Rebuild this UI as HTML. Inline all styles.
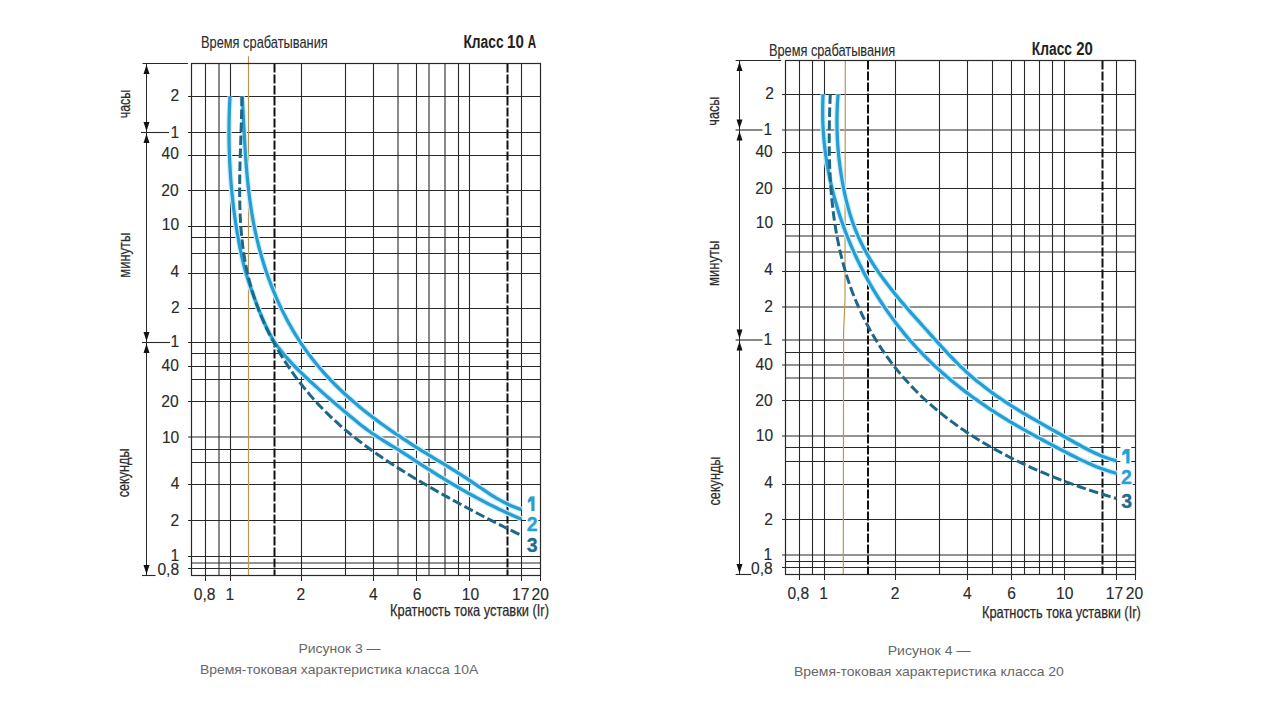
<!DOCTYPE html>
<html><head><meta charset="utf-8"><style>
html,body{margin:0;padding:0;background:#fff;width:1280px;height:720px;overflow:hidden}
svg{display:block;font-family:"Liberation Sans",sans-serif}
</style></head><body>
<svg width="1280" height="720" viewBox="0 0 1280 720">
<rect width="1280" height="720" fill="#fff"/>
<line x1="191.5" y1="96.5" x2="540.5" y2="96.5" stroke="#282828" stroke-width="1.1"/>
<line x1="191.5" y1="132.5" x2="540.5" y2="132.5" stroke="#282828" stroke-width="1.1"/>
<line x1="191.5" y1="155.5" x2="540.5" y2="155.5" stroke="#282828" stroke-width="1.1"/>
<line x1="191.5" y1="190.5" x2="540.5" y2="190.5" stroke="#282828" stroke-width="1.1"/>
<line x1="191.5" y1="226.5" x2="540.5" y2="226.5" stroke="#282828" stroke-width="1.1"/>
<line x1="191.5" y1="237.5" x2="540.5" y2="237.5" stroke="#282828" stroke-width="1.1"/>
<line x1="191.5" y1="253.5" x2="540.5" y2="253.5" stroke="#282828" stroke-width="1.1"/>
<line x1="191.5" y1="273.5" x2="540.5" y2="273.5" stroke="#282828" stroke-width="1.1"/>
<line x1="191.5" y1="308.5" x2="540.5" y2="308.5" stroke="#282828" stroke-width="1.1"/>
<line x1="191.5" y1="342.5" x2="540.5" y2="342.5" stroke="#282828" stroke-width="1.1"/>
<line x1="191.5" y1="353.5" x2="540.5" y2="353.5" stroke="#282828" stroke-width="1.1"/>
<line x1="191.5" y1="366.5" x2="540.5" y2="366.5" stroke="#282828" stroke-width="1.1"/>
<line x1="191.5" y1="379.5" x2="540.5" y2="379.5" stroke="#282828" stroke-width="1.1"/>
<line x1="191.5" y1="401.5" x2="540.5" y2="401.5" stroke="#282828" stroke-width="1.1"/>
<line x1="191.5" y1="437" x2="540.5" y2="437" stroke="#282828" stroke-width="1.1"/>
<line x1="191.5" y1="449.5" x2="540.5" y2="449.5" stroke="#282828" stroke-width="1.1"/>
<line x1="191.5" y1="462.5" x2="540.5" y2="462.5" stroke="#282828" stroke-width="1.1"/>
<line x1="191.5" y1="484.5" x2="540.5" y2="484.5" stroke="#282828" stroke-width="1.1"/>
<line x1="191.5" y1="520.5" x2="540.5" y2="520.5" stroke="#282828" stroke-width="1.1"/>
<line x1="191.5" y1="556.5" x2="540.5" y2="556.5" stroke="#282828" stroke-width="1.1"/>
<line x1="191.5" y1="563" x2="540.5" y2="563" stroke="#282828" stroke-width="1.1"/>
<line x1="191.5" y1="568.5" x2="540.5" y2="568.5" stroke="#282828" stroke-width="1.1"/>
<line x1="188" y1="96.5" x2="191.5" y2="96.5" stroke="#282828" stroke-width="1"/>
<line x1="188" y1="132.5" x2="191.5" y2="132.5" stroke="#282828" stroke-width="1"/>
<line x1="188" y1="155.5" x2="191.5" y2="155.5" stroke="#282828" stroke-width="1"/>
<line x1="188" y1="190.5" x2="191.5" y2="190.5" stroke="#282828" stroke-width="1"/>
<line x1="188" y1="226.5" x2="191.5" y2="226.5" stroke="#282828" stroke-width="1"/>
<line x1="188" y1="273.5" x2="191.5" y2="273.5" stroke="#282828" stroke-width="1"/>
<line x1="188" y1="308.5" x2="191.5" y2="308.5" stroke="#282828" stroke-width="1"/>
<line x1="188" y1="342.5" x2="191.5" y2="342.5" stroke="#282828" stroke-width="1"/>
<line x1="188" y1="366.5" x2="191.5" y2="366.5" stroke="#282828" stroke-width="1"/>
<line x1="188" y1="401.5" x2="191.5" y2="401.5" stroke="#282828" stroke-width="1"/>
<line x1="188" y1="437" x2="191.5" y2="437" stroke="#282828" stroke-width="1"/>
<line x1="188" y1="484.5" x2="191.5" y2="484.5" stroke="#282828" stroke-width="1"/>
<line x1="188" y1="520.5" x2="191.5" y2="520.5" stroke="#282828" stroke-width="1"/>
<line x1="188" y1="556.5" x2="191.5" y2="556.5" stroke="#282828" stroke-width="1"/>
<line x1="188" y1="568.5" x2="191.5" y2="568.5" stroke="#282828" stroke-width="1"/>
<line x1="205.5" y1="63.5" x2="205.5" y2="575.5" stroke="#282828" stroke-width="1.1"/>
<line x1="219" y1="63.5" x2="219" y2="575.5" stroke="#282828" stroke-width="1.1"/>
<line x1="230.5" y1="63.5" x2="230.5" y2="575.5" stroke="#282828" stroke-width="1.1"/>
<line x1="301.5" y1="63.5" x2="301.5" y2="575.5" stroke="#282828" stroke-width="1.1"/>
<line x1="345.5" y1="63.5" x2="345.5" y2="575.5" stroke="#282828" stroke-width="1.1"/>
<line x1="373.5" y1="63.5" x2="373.5" y2="575.5" stroke="#282828" stroke-width="1.1"/>
<line x1="398" y1="63.5" x2="398" y2="575.5" stroke="#282828" stroke-width="1.1"/>
<line x1="416.5" y1="63.5" x2="416.5" y2="575.5" stroke="#282828" stroke-width="1.1"/>
<line x1="429" y1="63.5" x2="429" y2="575.5" stroke="#282828" stroke-width="1.1"/>
<line x1="445" y1="63.5" x2="445" y2="575.5" stroke="#282828" stroke-width="1.1"/>
<line x1="458.5" y1="63.5" x2="458.5" y2="575.5" stroke="#282828" stroke-width="1.1"/>
<line x1="469.5" y1="63.5" x2="469.5" y2="575.5" stroke="#282828" stroke-width="1.1"/>
<line x1="521.5" y1="63.5" x2="521.5" y2="575.5" stroke="#282828" stroke-width="1.1"/>
<line x1="205.5" y1="575.5" x2="205.5" y2="581" stroke="#282828" stroke-width="1"/>
<line x1="230.5" y1="575.5" x2="230.5" y2="581" stroke="#282828" stroke-width="1"/>
<line x1="301.5" y1="575.5" x2="301.5" y2="581" stroke="#282828" stroke-width="1"/>
<line x1="373.5" y1="575.5" x2="373.5" y2="581" stroke="#282828" stroke-width="1"/>
<line x1="416.5" y1="575.5" x2="416.5" y2="581" stroke="#282828" stroke-width="1"/>
<line x1="469.5" y1="575.5" x2="469.5" y2="581" stroke="#282828" stroke-width="1"/>
<line x1="521.5" y1="575.5" x2="521.5" y2="581" stroke="#282828" stroke-width="1"/>
<line x1="540.5" y1="575.5" x2="540.5" y2="581" stroke="#282828" stroke-width="1"/>
<line x1="274.5" y1="63.5" x2="274.5" y2="575.5" stroke="#111" stroke-width="2" stroke-dasharray="9 2"/>
<line x1="507.5" y1="63.5" x2="507.5" y2="575.5" stroke="#111" stroke-width="2" stroke-dasharray="9 2"/>
<polyline points="248.5,56.3 248.5,575.4" fill="none" stroke="#bf9550" stroke-width="1.2"/>
<rect x="191.5" y="63.5" width="349" height="512" fill="none" stroke="#282828" stroke-width="1.2"/>
<line x1="146.5" y1="63.5" x2="146.5" y2="575.5" stroke="#282828" stroke-width="1"/>
<line x1="142.5" y1="63.5" x2="188" y2="63.5" stroke="#282828" stroke-width="1.1"/>
<line x1="141" y1="132.5" x2="169" y2="132.5" stroke="#282828" stroke-width="1.1"/>
<line x1="142" y1="342.5" x2="170" y2="342.5" stroke="#282828" stroke-width="1.1"/>
<line x1="142" y1="575.5" x2="155.6" y2="575.5" stroke="#282828" stroke-width="1.1"/>
<polygon points="146.5,64.7 143.5,74 149.5,74" fill="#111"/>
<polygon points="146.5,131.3 143.5,122 149.5,122" fill="#111"/>
<polygon points="146.5,133.7 143.5,143 149.5,143" fill="#111"/>
<polygon points="146.5,341.3 143.5,332 149.5,332" fill="#111"/>
<polygon points="146.5,343.7 143.5,353 149.5,353" fill="#111"/>
<polygon points="146.5,574.3 143.5,565 149.5,565" fill="#111"/>
<path d="M242.2,96.5 C242.26,97.51 242.44,100.55 242.55,102.58 C242.67,104.61 242.78,106.64 242.89,108.67 C243,110.69 243.11,112.72 243.21,114.75 C243.32,116.78 243.43,118.81 243.53,120.83 C243.64,122.86 243.75,124.89 243.86,126.92 C243.96,128.95 244.07,130.97 244.18,133 C244.29,135.03 244.4,137.06 244.52,139.09 C244.64,141.11 244.75,143.14 244.88,145.17 C245,147.2 245.12,149.22 245.25,151.25 C245.39,153.28 245.52,155.3 245.66,157.33 C245.8,159.35 245.95,161.38 246.1,163.4 C246.26,165.43 246.42,167.45 246.59,169.48 C246.76,171.5 246.93,173.53 247.12,175.55 C247.3,177.57 247.5,179.59 247.7,181.61 C247.9,183.63 248.11,185.65 248.34,187.67 C248.56,189.69 248.79,191.71 249.04,193.72 C249.29,195.74 249.54,197.75 249.81,199.77 C250.08,201.78 250.36,203.79 250.66,205.8 C250.96,207.81 251.26,209.82 251.59,211.82 C251.91,213.83 252.25,215.83 252.6,217.83 C252.95,219.83 253.32,221.83 253.7,223.82 C254.09,225.82 254.48,227.81 254.9,229.8 C255.32,231.78 255.75,233.77 256.2,235.75 C256.64,237.73 257.11,239.71 257.59,241.68 C258.07,243.65 258.57,245.62 259.08,247.59 C259.59,249.55 260.12,251.51 260.67,253.47 C261.22,255.43 261.78,257.38 262.36,259.32 C262.94,261.27 263.54,263.21 264.15,265.15 C264.76,267.08 265.4,269.01 266.04,270.94 C266.69,272.86 267.35,274.78 268.04,276.7 C268.72,278.61 269.42,280.52 270.13,282.42 C270.85,284.32 271.58,286.21 272.33,288.1 C273.08,289.99 273.85,291.87 274.64,293.74 C275.42,295.61 276.23,297.48 277.05,299.33 C277.87,301.19 278.71,303.04 279.57,304.88 C280.42,306.72 281.3,308.56 282.19,310.38 C283.09,312.2 284,314.02 284.93,315.82 C285.86,317.63 286.8,319.43 287.77,321.21 C288.74,323 289.72,324.77 290.73,326.54 C291.73,328.31 292.75,330.06 293.79,331.8 C294.83,333.55 295.89,335.28 296.97,337 C298.05,338.72 299.15,340.43 300.27,342.13 C301.38,343.82 302.52,345.51 303.67,347.18 C304.83,348.85 306,350.51 307.19,352.15 C308.39,353.79 309.6,355.42 310.83,357.04 C312.06,358.65 313.31,360.25 314.58,361.84 C315.85,363.42 317.14,364.99 318.45,366.55 C319.75,368.1 321.08,369.64 322.42,371.17 C323.76,372.69 325.12,374.2 326.49,375.7 C327.87,377.19 329.26,378.67 330.66,380.14 C332.07,381.61 333.49,383.06 334.93,384.49 C336.36,385.93 337.81,387.35 339.27,388.76 C340.73,390.17 342.21,391.57 343.7,392.95 C345.19,394.33 346.69,395.7 348.2,397.06 C349.71,398.41 351.24,399.75 352.77,401.08 C354.31,402.41 355.85,403.73 357.41,405.04 C358.96,406.34 360.53,407.63 362.11,408.91 C363.68,410.19 365.27,411.46 366.86,412.72 C368.46,413.98 370.06,415.22 371.67,416.46 C373.29,417.7 374.91,418.92 376.53,420.13 C378.16,421.35 379.8,422.55 381.44,423.75 C383.08,424.94 384.73,426.12 386.39,427.3 C388.05,428.47 389.71,429.64 391.38,430.8 C393.05,431.95 394.73,433.1 396.41,434.24 C398.09,435.38 399.78,436.51 401.47,437.63 C403.16,438.75 404.86,439.87 406.56,440.98 C408.26,442.09 409.97,443.19 411.68,444.28 C413.39,445.37 415.11,446.46 416.83,447.54 C418.55,448.62 420.27,449.7 422,450.77 C423.72,451.83 425.45,452.9 427.19,453.96 C428.92,455.02 430.65,456.07 432.39,457.13 C434.12,458.19 435.86,459.24 437.59,460.29 C439.33,461.35 441.07,462.4 442.8,463.46 C444.53,464.52 446.27,465.57 448,466.64 C449.73,467.7 451.46,468.77 453.18,469.84 C454.9,470.92 456.63,471.99 458.34,473.08 C460.06,474.17 461.77,475.26 463.47,476.37 C465.18,477.47 466.87,478.58 468.57,479.71 C470.26,480.83 471.94,481.97 473.62,483.11 C475.3,484.25 476.97,485.4 478.65,486.55 C480.33,487.69 482.01,488.84 483.7,489.96 C485.39,491.09 487.08,492.22 488.79,493.31 C490.49,494.41 492.21,495.49 493.95,496.55 C495.69,497.6 497.44,498.63 499.21,499.62 C500.98,500.62 502.77,501.58 504.57,502.51 C506.38,503.43 508.21,504.32 510.06,505.16 C511.91,505.99 513.78,506.79 515.67,507.53 C517.56,508.27 520.45,509.25 521.4,509.6" fill="none" stroke="#c6effd" stroke-width="5.6" stroke-linecap="butt"/>
<path d="M242.2,96.5 C242.26,97.51 242.44,100.55 242.55,102.58 C242.67,104.61 242.78,106.64 242.89,108.67 C243,110.69 243.11,112.72 243.21,114.75 C243.32,116.78 243.43,118.81 243.53,120.83 C243.64,122.86 243.75,124.89 243.86,126.92 C243.96,128.95 244.07,130.97 244.18,133 C244.29,135.03 244.4,137.06 244.52,139.09 C244.64,141.11 244.75,143.14 244.88,145.17 C245,147.2 245.12,149.22 245.25,151.25 C245.39,153.28 245.52,155.3 245.66,157.33 C245.8,159.35 245.95,161.38 246.1,163.4 C246.26,165.43 246.42,167.45 246.59,169.48 C246.76,171.5 246.93,173.53 247.12,175.55 C247.3,177.57 247.5,179.59 247.7,181.61 C247.9,183.63 248.11,185.65 248.34,187.67 C248.56,189.69 248.79,191.71 249.04,193.72 C249.29,195.74 249.54,197.75 249.81,199.77 C250.08,201.78 250.36,203.79 250.66,205.8 C250.96,207.81 251.26,209.82 251.59,211.82 C251.91,213.83 252.25,215.83 252.6,217.83 C252.95,219.83 253.32,221.83 253.7,223.82 C254.09,225.82 254.48,227.81 254.9,229.8 C255.32,231.78 255.75,233.77 256.2,235.75 C256.64,237.73 257.11,239.71 257.59,241.68 C258.07,243.65 258.57,245.62 259.08,247.59 C259.59,249.55 260.12,251.51 260.67,253.47 C261.22,255.43 261.78,257.38 262.36,259.32 C262.94,261.27 263.54,263.21 264.15,265.15 C264.76,267.08 265.4,269.01 266.04,270.94 C266.69,272.86 267.35,274.78 268.04,276.7 C268.72,278.61 269.42,280.52 270.13,282.42 C270.85,284.32 271.58,286.21 272.33,288.1 C273.08,289.99 273.85,291.87 274.64,293.74 C275.42,295.61 276.23,297.48 277.05,299.33 C277.87,301.19 278.71,303.04 279.57,304.88 C280.42,306.72 281.3,308.56 282.19,310.38 C283.09,312.2 284,314.02 284.93,315.82 C285.86,317.63 286.8,319.43 287.77,321.21 C288.74,323 289.72,324.77 290.73,326.54 C291.73,328.31 292.75,330.06 293.79,331.8 C294.83,333.55 295.89,335.28 296.97,337 C298.05,338.72 299.15,340.43 300.27,342.13 C301.38,343.82 302.52,345.51 303.67,347.18 C304.83,348.85 306,350.51 307.19,352.15 C308.39,353.79 309.6,355.42 310.83,357.04 C312.06,358.65 313.31,360.25 314.58,361.84 C315.85,363.42 317.14,364.99 318.45,366.55 C319.75,368.1 321.08,369.64 322.42,371.17 C323.76,372.69 325.12,374.2 326.49,375.7 C327.87,377.19 329.26,378.67 330.66,380.14 C332.07,381.61 333.49,383.06 334.93,384.49 C336.36,385.93 337.81,387.35 339.27,388.76 C340.73,390.17 342.21,391.57 343.7,392.95 C345.19,394.33 346.69,395.7 348.2,397.06 C349.71,398.41 351.24,399.75 352.77,401.08 C354.31,402.41 355.85,403.73 357.41,405.04 C358.96,406.34 360.53,407.63 362.11,408.91 C363.68,410.19 365.27,411.46 366.86,412.72 C368.46,413.98 370.06,415.22 371.67,416.46 C373.29,417.7 374.91,418.92 376.53,420.13 C378.16,421.35 379.8,422.55 381.44,423.75 C383.08,424.94 384.73,426.12 386.39,427.3 C388.05,428.47 389.71,429.64 391.38,430.8 C393.05,431.95 394.73,433.1 396.41,434.24 C398.09,435.38 399.78,436.51 401.47,437.63 C403.16,438.75 404.86,439.87 406.56,440.98 C408.26,442.09 409.97,443.19 411.68,444.28 C413.39,445.37 415.11,446.46 416.83,447.54 C418.55,448.62 420.27,449.7 422,450.77 C423.72,451.83 425.45,452.9 427.19,453.96 C428.92,455.02 430.65,456.07 432.39,457.13 C434.12,458.19 435.86,459.24 437.59,460.29 C439.33,461.35 441.07,462.4 442.8,463.46 C444.53,464.52 446.27,465.57 448,466.64 C449.73,467.7 451.46,468.77 453.18,469.84 C454.9,470.92 456.63,471.99 458.34,473.08 C460.06,474.17 461.77,475.26 463.47,476.37 C465.18,477.47 466.87,478.58 468.57,479.71 C470.26,480.83 471.94,481.97 473.62,483.11 C475.3,484.25 476.97,485.4 478.65,486.55 C480.33,487.69 482.01,488.84 483.7,489.96 C485.39,491.09 487.08,492.22 488.79,493.31 C490.49,494.41 492.21,495.49 493.95,496.55 C495.69,497.6 497.44,498.63 499.21,499.62 C500.98,500.62 502.77,501.58 504.57,502.51 C506.38,503.43 508.21,504.32 510.06,505.16 C511.91,505.99 513.78,506.79 515.67,507.53 C517.56,508.27 520.45,509.25 521.4,509.6" fill="none" stroke="#279dd2" stroke-width="3.25" stroke-linecap="butt"/>
<path d="M230,96.5 C229.95,97.51 229.78,100.55 229.69,102.57 C229.6,104.6 229.51,106.62 229.44,108.65 C229.36,110.67 229.3,112.7 229.24,114.72 C229.19,116.75 229.14,118.77 229.11,120.8 C229.07,122.83 229.04,124.85 229.03,126.88 C229.01,128.91 229,130.93 229,132.96 C229.01,134.99 229.02,137.01 229.04,139.04 C229.06,141.07 229.1,143.09 229.14,145.12 C229.18,147.14 229.23,149.17 229.29,151.2 C229.35,153.22 229.42,155.25 229.5,157.27 C229.58,159.3 229.68,161.32 229.78,163.35 C229.88,165.37 229.99,167.39 230.11,169.42 C230.23,171.44 230.36,173.46 230.5,175.48 C230.64,177.51 230.79,179.53 230.95,181.55 C231.11,183.57 231.28,185.59 231.46,187.6 C231.64,189.62 231.83,191.64 232.03,193.66 C232.23,195.67 232.44,197.69 232.66,199.7 C232.88,201.72 233.11,203.73 233.35,205.74 C233.59,207.76 233.84,209.77 234.1,211.78 C234.36,213.79 234.64,215.8 234.92,217.8 C235.2,219.81 235.49,221.81 235.79,223.82 C236.1,225.82 236.41,227.82 236.73,229.82 C237.06,231.83 237.39,233.82 237.74,235.82 C238.08,237.82 238.43,239.81 238.8,241.81 C239.17,243.8 239.55,245.79 239.94,247.78 C240.34,249.77 240.75,251.75 241.17,253.73 C241.6,255.71 242.04,257.69 242.51,259.66 C242.97,261.64 243.45,263.61 243.96,265.57 C244.47,267.53 244.99,269.49 245.54,271.44 C246.09,273.39 246.67,275.33 247.27,277.27 C247.86,279.2 248.48,281.13 249.12,283.06 C249.75,284.98 250.4,286.9 251.06,288.82 C251.72,290.73 252.4,292.65 253.09,294.55 C253.78,296.46 254.48,298.36 255.19,300.25 C255.91,302.15 256.63,304.04 257.36,305.93 C258.1,307.82 258.84,309.71 259.59,311.59 C260.35,313.47 261.11,315.35 261.9,317.21 C262.69,319.08 263.49,320.94 264.33,322.79 C265.16,324.63 266.02,326.47 266.91,328.29 C267.8,330.11 268.73,331.92 269.69,333.7 C270.66,335.48 271.66,337.24 272.71,338.97 C273.77,340.7 274.87,342.41 276.01,344.08 C277.15,345.76 278.34,347.4 279.56,349.01 C280.78,350.63 282.05,352.22 283.33,353.78 C284.62,355.34 285.95,356.88 287.29,358.4 C288.63,359.91 290.01,361.4 291.4,362.88 C292.79,364.36 294.2,365.81 295.62,367.25 C297.04,368.7 298.48,370.12 299.93,371.54 C301.38,372.96 302.84,374.37 304.3,375.77 C305.77,377.17 307.24,378.56 308.72,379.94 C310.2,381.33 311.69,382.7 313.18,384.07 C314.67,385.44 316.17,386.81 317.68,388.16 C319.18,389.52 320.69,390.87 322.21,392.22 C323.72,393.56 325.25,394.9 326.77,396.24 C328.3,397.57 329.83,398.9 331.36,400.23 C332.89,401.55 334.43,402.87 335.97,404.19 C337.51,405.51 339.05,406.82 340.6,408.13 C342.14,409.44 343.69,410.75 345.24,412.06 C346.79,413.36 348.34,414.67 349.9,415.97 C351.45,417.26 353.01,418.56 354.58,419.84 C356.15,421.13 357.72,422.4 359.31,423.66 C360.9,424.92 362.49,426.17 364.1,427.4 C365.72,428.63 367.34,429.84 368.98,431.03 C370.62,432.22 372.28,433.38 373.95,434.53 C375.63,435.67 377.32,436.78 379.03,437.88 C380.73,438.98 382.45,440.05 384.17,441.12 C385.89,442.19 387.62,443.25 389.35,444.31 C391.08,445.37 392.81,446.41 394.54,447.48 C396.26,448.54 397.99,449.6 399.7,450.68 C401.42,451.76 403.13,452.85 404.84,453.94 C406.54,455.03 408.24,456.13 409.95,457.23 C411.65,458.33 413.34,459.44 415.04,460.54 C416.74,461.65 418.44,462.75 420.14,463.85 C421.85,464.95 423.55,466.05 425.26,467.14 C426.96,468.24 428.67,469.32 430.39,470.41 C432.1,471.49 433.81,472.57 435.53,473.64 C437.25,474.72 438.97,475.78 440.7,476.85 C442.43,477.91 444.15,478.97 445.89,480.02 C447.62,481.07 449.36,482.11 451.1,483.15 C452.84,484.19 454.58,485.22 456.33,486.25 C458.08,487.27 459.83,488.29 461.58,489.3 C463.34,490.32 465.1,491.32 466.87,492.32 C468.63,493.31 470.4,494.3 472.17,495.28 C473.95,496.26 475.73,497.23 477.51,498.19 C479.3,499.15 481.09,500.1 482.88,501.05 C484.67,501.99 486.47,502.92 488.28,503.84 C490.08,504.76 491.89,505.67 493.71,506.57 C495.53,507.47 497.35,508.36 499.18,509.23 C501.01,510.11 502.84,510.97 504.68,511.82 C506.52,512.67 508.36,513.51 510.22,514.33 C512.07,515.15 513.93,515.96 515.79,516.76 C517.65,517.55 520.46,518.71 521.4,519.1" fill="none" stroke="#c6effd" stroke-width="5.6" stroke-linecap="butt"/>
<path d="M230,96.5 C229.95,97.51 229.78,100.55 229.69,102.57 C229.6,104.6 229.51,106.62 229.44,108.65 C229.36,110.67 229.3,112.7 229.24,114.72 C229.19,116.75 229.14,118.77 229.11,120.8 C229.07,122.83 229.04,124.85 229.03,126.88 C229.01,128.91 229,130.93 229,132.96 C229.01,134.99 229.02,137.01 229.04,139.04 C229.06,141.07 229.1,143.09 229.14,145.12 C229.18,147.14 229.23,149.17 229.29,151.2 C229.35,153.22 229.42,155.25 229.5,157.27 C229.58,159.3 229.68,161.32 229.78,163.35 C229.88,165.37 229.99,167.39 230.11,169.42 C230.23,171.44 230.36,173.46 230.5,175.48 C230.64,177.51 230.79,179.53 230.95,181.55 C231.11,183.57 231.28,185.59 231.46,187.6 C231.64,189.62 231.83,191.64 232.03,193.66 C232.23,195.67 232.44,197.69 232.66,199.7 C232.88,201.72 233.11,203.73 233.35,205.74 C233.59,207.76 233.84,209.77 234.1,211.78 C234.36,213.79 234.64,215.8 234.92,217.8 C235.2,219.81 235.49,221.81 235.79,223.82 C236.1,225.82 236.41,227.82 236.73,229.82 C237.06,231.83 237.39,233.82 237.74,235.82 C238.08,237.82 238.43,239.81 238.8,241.81 C239.17,243.8 239.55,245.79 239.94,247.78 C240.34,249.77 240.75,251.75 241.17,253.73 C241.6,255.71 242.04,257.69 242.51,259.66 C242.97,261.64 243.45,263.61 243.96,265.57 C244.47,267.53 244.99,269.49 245.54,271.44 C246.09,273.39 246.67,275.33 247.27,277.27 C247.86,279.2 248.48,281.13 249.12,283.06 C249.75,284.98 250.4,286.9 251.06,288.82 C251.72,290.73 252.4,292.65 253.09,294.55 C253.78,296.46 254.48,298.36 255.19,300.25 C255.91,302.15 256.63,304.04 257.36,305.93 C258.1,307.82 258.84,309.71 259.59,311.59 C260.35,313.47 261.11,315.35 261.9,317.21 C262.69,319.08 263.49,320.94 264.33,322.79 C265.16,324.63 266.02,326.47 266.91,328.29 C267.8,330.11 268.73,331.92 269.69,333.7 C270.66,335.48 271.66,337.24 272.71,338.97 C273.77,340.7 274.87,342.41 276.01,344.08 C277.15,345.76 278.34,347.4 279.56,349.01 C280.78,350.63 282.05,352.22 283.33,353.78 C284.62,355.34 285.95,356.88 287.29,358.4 C288.63,359.91 290.01,361.4 291.4,362.88 C292.79,364.36 294.2,365.81 295.62,367.25 C297.04,368.7 298.48,370.12 299.93,371.54 C301.38,372.96 302.84,374.37 304.3,375.77 C305.77,377.17 307.24,378.56 308.72,379.94 C310.2,381.33 311.69,382.7 313.18,384.07 C314.67,385.44 316.17,386.81 317.68,388.16 C319.18,389.52 320.69,390.87 322.21,392.22 C323.72,393.56 325.25,394.9 326.77,396.24 C328.3,397.57 329.83,398.9 331.36,400.23 C332.89,401.55 334.43,402.87 335.97,404.19 C337.51,405.51 339.05,406.82 340.6,408.13 C342.14,409.44 343.69,410.75 345.24,412.06 C346.79,413.36 348.34,414.67 349.9,415.97 C351.45,417.26 353.01,418.56 354.58,419.84 C356.15,421.13 357.72,422.4 359.31,423.66 C360.9,424.92 362.49,426.17 364.1,427.4 C365.72,428.63 367.34,429.84 368.98,431.03 C370.62,432.22 372.28,433.38 373.95,434.53 C375.63,435.67 377.32,436.78 379.03,437.88 C380.73,438.98 382.45,440.05 384.17,441.12 C385.89,442.19 387.62,443.25 389.35,444.31 C391.08,445.37 392.81,446.41 394.54,447.48 C396.26,448.54 397.99,449.6 399.7,450.68 C401.42,451.76 403.13,452.85 404.84,453.94 C406.54,455.03 408.24,456.13 409.95,457.23 C411.65,458.33 413.34,459.44 415.04,460.54 C416.74,461.65 418.44,462.75 420.14,463.85 C421.85,464.95 423.55,466.05 425.26,467.14 C426.96,468.24 428.67,469.32 430.39,470.41 C432.1,471.49 433.81,472.57 435.53,473.64 C437.25,474.72 438.97,475.78 440.7,476.85 C442.43,477.91 444.15,478.97 445.89,480.02 C447.62,481.07 449.36,482.11 451.1,483.15 C452.84,484.19 454.58,485.22 456.33,486.25 C458.08,487.27 459.83,488.29 461.58,489.3 C463.34,490.32 465.1,491.32 466.87,492.32 C468.63,493.31 470.4,494.3 472.17,495.28 C473.95,496.26 475.73,497.23 477.51,498.19 C479.3,499.15 481.09,500.1 482.88,501.05 C484.67,501.99 486.47,502.92 488.28,503.84 C490.08,504.76 491.89,505.67 493.71,506.57 C495.53,507.47 497.35,508.36 499.18,509.23 C501.01,510.11 502.84,510.97 504.68,511.82 C506.52,512.67 508.36,513.51 510.22,514.33 C512.07,515.15 513.93,515.96 515.79,516.76 C517.65,517.55 520.46,518.71 521.4,519.1" fill="none" stroke="#279dd2" stroke-width="3.25" stroke-linecap="butt"/>
<path d="M241.9,96.5 C241.89,97.51 241.86,100.54 241.83,102.57 C241.8,104.59 241.76,106.61 241.72,108.63 C241.68,110.65 241.63,112.67 241.57,114.69 C241.52,116.71 241.46,118.73 241.4,120.75 C241.34,122.77 241.28,124.79 241.22,126.82 C241.15,128.84 241.08,130.86 241.01,132.88 C240.95,134.9 240.88,136.92 240.81,138.94 C240.74,140.96 240.67,142.98 240.6,145 C240.53,147.02 240.46,149.04 240.4,151.06 C240.33,153.08 240.27,155.1 240.2,157.12 C240.14,159.14 240.09,161.16 240.03,163.18 C239.98,165.2 239.93,167.23 239.88,169.25 C239.84,171.27 239.8,173.29 239.77,175.31 C239.73,177.33 239.71,179.35 239.69,181.37 C239.67,183.4 239.65,185.42 239.65,187.44 C239.64,189.46 239.64,191.48 239.66,193.5 C239.67,195.52 239.69,197.55 239.72,199.57 C239.75,201.59 239.79,203.61 239.85,205.63 C239.9,207.65 239.97,209.67 240.04,211.69 C240.12,213.71 240.21,215.73 240.31,217.75 C240.41,219.77 240.53,221.79 240.66,223.8 C240.79,225.82 240.94,227.84 241.1,229.85 C241.26,231.87 241.44,233.88 241.63,235.89 C241.83,237.91 242.04,239.92 242.27,241.93 C242.49,243.93 242.74,245.94 243.01,247.94 C243.27,249.95 243.56,251.95 243.86,253.95 C244.17,255.95 244.49,257.94 244.84,259.93 C245.19,261.92 245.55,263.91 245.95,265.9 C246.34,267.88 246.75,269.86 247.18,271.83 C247.62,273.81 248.08,275.78 248.56,277.74 C249.05,279.7 249.55,281.66 250.08,283.61 C250.61,285.56 251.16,287.51 251.74,289.44 C252.31,291.38 252.91,293.31 253.52,295.24 C254.14,297.16 254.78,299.08 255.45,300.99 C256.11,302.9 256.79,304.8 257.5,306.7 C258.2,308.59 258.93,310.48 259.67,312.36 C260.42,314.24 261.19,316.11 261.97,317.97 C262.76,319.83 263.57,321.68 264.4,323.53 C265.23,325.37 266.07,327.21 266.94,329.03 C267.81,330.86 268.7,332.68 269.6,334.48 C270.51,336.29 271.43,338.09 272.38,339.88 C273.32,341.66 274.28,343.44 275.27,345.21 C276.25,346.98 277.25,348.73 278.26,350.48 C279.28,352.23 280.32,353.96 281.37,355.69 C282.42,357.41 283.49,359.13 284.58,360.83 C285.67,362.53 286.78,364.23 287.9,365.91 C289.03,367.59 290.17,369.26 291.32,370.91 C292.48,372.57 293.65,374.22 294.84,375.85 C296.03,377.49 297.24,379.11 298.46,380.72 C299.69,382.33 300.93,383.93 302.18,385.51 C303.44,387.09 304.71,388.67 305.99,390.23 C307.28,391.79 308.58,393.33 309.9,394.86 C311.22,396.4 312.55,397.92 313.9,399.42 C315.25,400.93 316.61,402.42 317.99,403.9 C319.37,405.38 320.76,406.85 322.17,408.3 C323.57,409.75 325,411.19 326.43,412.61 C327.87,414.03 329.32,415.44 330.78,416.83 C332.25,418.23 333.72,419.61 335.21,420.97 C336.71,422.34 338.21,423.69 339.72,425.03 C341.24,426.37 342.77,427.69 344.3,429 C345.84,430.31 347.39,431.61 348.95,432.9 C350.51,434.18 352.08,435.46 353.66,436.72 C355.24,437.98 356.83,439.23 358.43,440.46 C360.03,441.7 361.64,442.92 363.26,444.14 C364.87,445.35 366.5,446.55 368.13,447.74 C369.77,448.93 371.41,450.11 373.06,451.28 C374.71,452.45 376.36,453.61 378.03,454.76 C379.69,455.91 381.36,457.05 383.03,458.18 C384.71,459.31 386.39,460.43 388.08,461.54 C389.77,462.66 391.46,463.76 393.16,464.86 C394.86,465.95 396.56,467.04 398.27,468.12 C399.98,469.2 401.69,470.27 403.41,471.34 C405.13,472.41 406.85,473.46 408.58,474.52 C410.3,475.57 412.03,476.62 413.77,477.66 C415.5,478.7 417.24,479.73 418.98,480.76 C420.72,481.79 422.46,482.81 424.2,483.83 C425.95,484.85 427.7,485.87 429.45,486.88 C431.2,487.89 432.95,488.9 434.71,489.9 C436.46,490.9 438.22,491.9 439.98,492.9 C441.74,493.89 443.5,494.89 445.26,495.87 C447.03,496.86 448.79,497.84 450.56,498.82 C452.33,499.8 454.1,500.78 455.87,501.75 C457.65,502.72 459.42,503.69 461.2,504.65 C462.98,505.61 464.76,506.57 466.54,507.53 C468.32,508.48 470.1,509.43 471.89,510.38 C473.67,511.33 475.46,512.27 477.25,513.21 C479.04,514.15 480.83,515.09 482.63,516.02 C484.42,516.95 486.22,517.88 488.02,518.8 C489.82,519.73 491.62,520.64 493.42,521.56 C495.22,522.48 497.02,523.39 498.83,524.3 C500.64,525.2 502.45,526.11 504.26,527.01 C506.07,527.91 507.88,528.8 509.69,529.7 C511.51,530.59 513.32,531.48 515.14,532.36 C516.96,533.24 519.69,534.56 520.6,535" fill="none" stroke="#1d6888" stroke-width="3.0" stroke-linecap="butt" stroke-dasharray="9.5 3.5"/>
<line x1="785.5" y1="94.5" x2="1135.5" y2="94.5" stroke="#282828" stroke-width="1.1"/>
<line x1="785.5" y1="130" x2="1135.5" y2="130" stroke="#282828" stroke-width="1.1"/>
<line x1="785.5" y1="152.5" x2="1135.5" y2="152.5" stroke="#282828" stroke-width="1.1"/>
<line x1="785.5" y1="188.5" x2="1135.5" y2="188.5" stroke="#282828" stroke-width="1.1"/>
<line x1="785.5" y1="224.5" x2="1135.5" y2="224.5" stroke="#282828" stroke-width="1.1"/>
<line x1="785.5" y1="236" x2="1135.5" y2="236" stroke="#282828" stroke-width="1.1"/>
<line x1="785.5" y1="252" x2="1135.5" y2="252" stroke="#282828" stroke-width="1.1"/>
<line x1="785.5" y1="271.5" x2="1135.5" y2="271.5" stroke="#282828" stroke-width="1.1"/>
<line x1="785.5" y1="307" x2="1135.5" y2="307" stroke="#282828" stroke-width="1.1"/>
<line x1="785.5" y1="340" x2="1135.5" y2="340" stroke="#282828" stroke-width="1.1"/>
<line x1="785.5" y1="352.5" x2="1135.5" y2="352.5" stroke="#282828" stroke-width="1.1"/>
<line x1="785.5" y1="365" x2="1135.5" y2="365" stroke="#282828" stroke-width="1.1"/>
<line x1="785.5" y1="378" x2="1135.5" y2="378" stroke="#282828" stroke-width="1.1"/>
<line x1="785.5" y1="400.5" x2="1135.5" y2="400.5" stroke="#282828" stroke-width="1.1"/>
<line x1="785.5" y1="436" x2="1135.5" y2="436" stroke="#282828" stroke-width="1.1"/>
<line x1="785.5" y1="447.5" x2="1135.5" y2="447.5" stroke="#282828" stroke-width="1.1"/>
<line x1="785.5" y1="461.5" x2="1135.5" y2="461.5" stroke="#282828" stroke-width="1.1"/>
<line x1="785.5" y1="484.5" x2="1135.5" y2="484.5" stroke="#282828" stroke-width="1.1"/>
<line x1="785.5" y1="519.5" x2="1135.5" y2="519.5" stroke="#282828" stroke-width="1.1"/>
<line x1="785.5" y1="555" x2="1135.5" y2="555" stroke="#282828" stroke-width="1.1"/>
<line x1="785.5" y1="561.5" x2="1135.5" y2="561.5" stroke="#282828" stroke-width="1.1"/>
<line x1="785.5" y1="567.5" x2="1135.5" y2="567.5" stroke="#282828" stroke-width="1.1"/>
<line x1="782" y1="94.5" x2="785.5" y2="94.5" stroke="#282828" stroke-width="1"/>
<line x1="782" y1="130" x2="785.5" y2="130" stroke="#282828" stroke-width="1"/>
<line x1="782" y1="152.5" x2="785.5" y2="152.5" stroke="#282828" stroke-width="1"/>
<line x1="782" y1="188.5" x2="785.5" y2="188.5" stroke="#282828" stroke-width="1"/>
<line x1="782" y1="224.5" x2="785.5" y2="224.5" stroke="#282828" stroke-width="1"/>
<line x1="782" y1="271.5" x2="785.5" y2="271.5" stroke="#282828" stroke-width="1"/>
<line x1="782" y1="307" x2="785.5" y2="307" stroke="#282828" stroke-width="1"/>
<line x1="782" y1="340" x2="785.5" y2="340" stroke="#282828" stroke-width="1"/>
<line x1="782" y1="365" x2="785.5" y2="365" stroke="#282828" stroke-width="1"/>
<line x1="782" y1="400.5" x2="785.5" y2="400.5" stroke="#282828" stroke-width="1"/>
<line x1="782" y1="436" x2="785.5" y2="436" stroke="#282828" stroke-width="1"/>
<line x1="782" y1="484.5" x2="785.5" y2="484.5" stroke="#282828" stroke-width="1"/>
<line x1="782" y1="519.5" x2="785.5" y2="519.5" stroke="#282828" stroke-width="1"/>
<line x1="782" y1="555" x2="785.5" y2="555" stroke="#282828" stroke-width="1"/>
<line x1="782" y1="567.5" x2="785.5" y2="567.5" stroke="#282828" stroke-width="1"/>
<line x1="799.5" y1="60.5" x2="799.5" y2="574.5" stroke="#282828" stroke-width="1.1"/>
<line x1="812.5" y1="60.5" x2="812.5" y2="574.5" stroke="#282828" stroke-width="1.1"/>
<line x1="824.5" y1="60.5" x2="824.5" y2="574.5" stroke="#282828" stroke-width="1.1"/>
<line x1="895.5" y1="60.5" x2="895.5" y2="574.5" stroke="#282828" stroke-width="1.1"/>
<line x1="939.5" y1="60.5" x2="939.5" y2="574.5" stroke="#282828" stroke-width="1.1"/>
<line x1="967.5" y1="60.5" x2="967.5" y2="574.5" stroke="#282828" stroke-width="1.1"/>
<line x1="992.5" y1="60.5" x2="992.5" y2="574.5" stroke="#282828" stroke-width="1.1"/>
<line x1="1011.5" y1="60.5" x2="1011.5" y2="574.5" stroke="#282828" stroke-width="1.1"/>
<line x1="1024.5" y1="60.5" x2="1024.5" y2="574.5" stroke="#282828" stroke-width="1.1"/>
<line x1="1039.5" y1="60.5" x2="1039.5" y2="574.5" stroke="#282828" stroke-width="1.1"/>
<line x1="1052.5" y1="60.5" x2="1052.5" y2="574.5" stroke="#282828" stroke-width="1.1"/>
<line x1="1064.5" y1="60.5" x2="1064.5" y2="574.5" stroke="#282828" stroke-width="1.1"/>
<line x1="1116.5" y1="60.5" x2="1116.5" y2="574.5" stroke="#282828" stroke-width="1.1"/>
<line x1="799.5" y1="574.5" x2="799.5" y2="580" stroke="#282828" stroke-width="1"/>
<line x1="824.5" y1="574.5" x2="824.5" y2="580" stroke="#282828" stroke-width="1"/>
<line x1="895.5" y1="574.5" x2="895.5" y2="580" stroke="#282828" stroke-width="1"/>
<line x1="967.5" y1="574.5" x2="967.5" y2="580" stroke="#282828" stroke-width="1"/>
<line x1="1011.5" y1="574.5" x2="1011.5" y2="580" stroke="#282828" stroke-width="1"/>
<line x1="1064.5" y1="574.5" x2="1064.5" y2="580" stroke="#282828" stroke-width="1"/>
<line x1="1116.5" y1="574.5" x2="1116.5" y2="580" stroke="#282828" stroke-width="1"/>
<line x1="1135.5" y1="574.5" x2="1135.5" y2="580" stroke="#282828" stroke-width="1"/>
<line x1="868" y1="60.5" x2="868" y2="574.5" stroke="#111" stroke-width="2" stroke-dasharray="9 2"/>
<line x1="1102.5" y1="60.5" x2="1102.5" y2="574.5" stroke="#111" stroke-width="2" stroke-dasharray="9 2"/>
<polyline points="845.3,61 845,300 843.6,332 843.3,574.4" fill="none" stroke="#bf9550" stroke-width="1.2"/>
<rect x="785.5" y="60.5" width="350" height="514" fill="none" stroke="#282828" stroke-width="1.2"/>
<line x1="739.5" y1="60.5" x2="739.5" y2="574.5" stroke="#282828" stroke-width="1"/>
<line x1="735.6" y1="60.5" x2="781.25" y2="60.5" stroke="#282828" stroke-width="1.1"/>
<line x1="735.6" y1="130" x2="762.5" y2="130" stroke="#282828" stroke-width="1.1"/>
<line x1="735.6" y1="340" x2="762.5" y2="340" stroke="#282828" stroke-width="1.1"/>
<line x1="735.6" y1="574.5" x2="751.25" y2="574.5" stroke="#282828" stroke-width="1.1"/>
<polygon points="739.5,61.7 736.5,71 742.5,71" fill="#111"/>
<polygon points="739.5,128.8 736.5,119.5 742.5,119.5" fill="#111"/>
<polygon points="739.5,131.2 736.5,140.5 742.5,140.5" fill="#111"/>
<polygon points="739.5,338.8 736.5,329.5 742.5,329.5" fill="#111"/>
<polygon points="739.5,341.2 736.5,350.5 742.5,350.5" fill="#111"/>
<polygon points="739.5,573.3 736.5,564 742.5,564" fill="#111"/>
<path d="M838.1,94.4 C838.02,95.41 837.78,98.46 837.65,100.49 C837.51,102.52 837.4,104.55 837.31,106.58 C837.21,108.62 837.14,110.65 837.08,112.68 C837.02,114.72 836.98,116.75 836.97,118.79 C836.95,120.82 836.95,122.86 836.97,124.89 C836.98,126.93 837.02,128.96 837.08,131 C837.14,133.03 837.21,135.06 837.31,137.1 C837.4,139.13 837.51,141.16 837.65,143.19 C837.78,145.22 837.93,147.25 838.1,149.28 C838.27,151.31 838.45,153.33 838.66,155.36 C838.86,157.38 839.09,159.41 839.33,161.43 C839.57,163.45 839.83,165.47 840.11,167.48 C840.38,169.5 840.68,171.51 840.99,173.52 C841.3,175.53 841.63,177.54 841.98,179.55 C842.32,181.55 842.68,183.56 843.06,185.56 C843.44,187.55 843.84,189.55 844.26,191.54 C844.68,193.53 845.12,195.52 845.58,197.5 C846.03,199.49 846.51,201.46 847.02,203.44 C847.52,205.41 848.05,207.37 848.6,209.33 C849.15,211.29 849.72,213.24 850.32,215.19 C850.92,217.13 851.55,219.07 852.21,220.99 C852.86,222.92 853.54,224.84 854.26,226.74 C854.97,228.65 855.71,230.55 856.48,232.43 C857.26,234.31 858.06,236.18 858.9,238.03 C859.74,239.89 860.61,241.73 861.51,243.56 C862.4,245.38 863.33,247.19 864.29,248.99 C865.24,250.79 866.23,252.57 867.24,254.34 C868.24,256.1 869.28,257.86 870.33,259.6 C871.39,261.33 872.47,263.06 873.57,264.77 C874.67,266.48 875.8,268.18 876.94,269.86 C878.08,271.55 879.24,273.22 880.42,274.88 C881.59,276.54 882.79,278.19 884,279.82 C885.21,281.46 886.44,283.08 887.68,284.7 C888.92,286.31 890.17,287.91 891.44,289.51 C892.7,291.1 893.98,292.68 895.27,294.26 C896.55,295.84 897.85,297.4 899.16,298.96 C900.47,300.52 901.78,302.07 903.11,303.62 C904.43,305.17 905.76,306.7 907.1,308.24 C908.43,309.77 909.78,311.3 911.13,312.83 C912.47,314.35 913.83,315.87 915.18,317.39 C916.54,318.91 917.9,320.42 919.26,321.94 C920.62,323.45 921.98,324.96 923.34,326.47 C924.71,327.98 926.07,329.49 927.43,331 C928.8,332.51 930.16,334.03 931.52,335.54 C932.88,337.05 934.24,338.56 935.61,340.07 C936.97,341.59 938.33,343.1 939.7,344.6 C941.07,346.11 942.44,347.62 943.82,349.11 C945.2,350.61 946.58,352.1 947.97,353.58 C949.37,355.07 950.77,356.54 952.18,358 C953.6,359.47 955.02,360.92 956.46,362.36 C957.9,363.8 959.35,365.23 960.82,366.64 C962.28,368.05 963.76,369.45 965.26,370.83 C966.75,372.21 968.27,373.57 969.79,374.91 C971.32,376.26 972.86,377.58 974.42,378.89 C975.98,380.21 977.55,381.5 979.13,382.77 C980.72,384.05 982.32,385.31 983.93,386.56 C985.54,387.8 987.16,389.03 988.79,390.24 C990.43,391.46 992.07,392.65 993.73,393.84 C995.38,395.02 997.05,396.19 998.72,397.35 C1000.4,398.5 1002.08,399.65 1003.77,400.78 C1005.47,401.9 1007.17,403.02 1008.88,404.12 C1010.59,405.23 1012.3,406.32 1014.03,407.4 C1015.75,408.48 1017.49,409.55 1019.22,410.61 C1020.96,411.67 1022.7,412.72 1024.45,413.76 C1026.2,414.8 1027.96,415.83 1029.71,416.86 C1031.47,417.89 1033.23,418.9 1034.99,419.92 C1036.76,420.93 1038.52,421.94 1040.29,422.95 C1042.06,423.96 1043.83,424.96 1045.6,425.96 C1047.38,426.96 1049.15,427.96 1050.92,428.96 C1052.69,429.96 1054.47,430.96 1056.24,431.96 C1058.01,432.97 1059.78,433.97 1061.55,434.97 C1063.32,435.98 1065.08,436.99 1066.85,438 C1068.62,439.01 1070.38,440.03 1072.15,441.03 C1073.92,442.04 1075.69,443.04 1077.47,444.03 C1079.25,445.02 1081.03,446 1082.83,446.96 C1084.62,447.91 1086.42,448.86 1088.24,449.78 C1090.06,450.69 1091.88,451.59 1093.72,452.46 C1095.57,453.32 1097.42,454.15 1099.3,454.95 C1101.17,455.74 1103.06,456.5 1104.97,457.21 C1106.87,457.92 1108.8,458.6 1110.73,459.21 C1112.67,459.83 1115.62,460.62 1116.6,460.9" fill="none" stroke="#c6effd" stroke-width="5.6" stroke-linecap="butt"/>
<path d="M838.1,94.4 C838.02,95.41 837.78,98.46 837.65,100.49 C837.51,102.52 837.4,104.55 837.31,106.58 C837.21,108.62 837.14,110.65 837.08,112.68 C837.02,114.72 836.98,116.75 836.97,118.79 C836.95,120.82 836.95,122.86 836.97,124.89 C836.98,126.93 837.02,128.96 837.08,131 C837.14,133.03 837.21,135.06 837.31,137.1 C837.4,139.13 837.51,141.16 837.65,143.19 C837.78,145.22 837.93,147.25 838.1,149.28 C838.27,151.31 838.45,153.33 838.66,155.36 C838.86,157.38 839.09,159.41 839.33,161.43 C839.57,163.45 839.83,165.47 840.11,167.48 C840.38,169.5 840.68,171.51 840.99,173.52 C841.3,175.53 841.63,177.54 841.98,179.55 C842.32,181.55 842.68,183.56 843.06,185.56 C843.44,187.55 843.84,189.55 844.26,191.54 C844.68,193.53 845.12,195.52 845.58,197.5 C846.03,199.49 846.51,201.46 847.02,203.44 C847.52,205.41 848.05,207.37 848.6,209.33 C849.15,211.29 849.72,213.24 850.32,215.19 C850.92,217.13 851.55,219.07 852.21,220.99 C852.86,222.92 853.54,224.84 854.26,226.74 C854.97,228.65 855.71,230.55 856.48,232.43 C857.26,234.31 858.06,236.18 858.9,238.03 C859.74,239.89 860.61,241.73 861.51,243.56 C862.4,245.38 863.33,247.19 864.29,248.99 C865.24,250.79 866.23,252.57 867.24,254.34 C868.24,256.1 869.28,257.86 870.33,259.6 C871.39,261.33 872.47,263.06 873.57,264.77 C874.67,266.48 875.8,268.18 876.94,269.86 C878.08,271.55 879.24,273.22 880.42,274.88 C881.59,276.54 882.79,278.19 884,279.82 C885.21,281.46 886.44,283.08 887.68,284.7 C888.92,286.31 890.17,287.91 891.44,289.51 C892.7,291.1 893.98,292.68 895.27,294.26 C896.55,295.84 897.85,297.4 899.16,298.96 C900.47,300.52 901.78,302.07 903.11,303.62 C904.43,305.17 905.76,306.7 907.1,308.24 C908.43,309.77 909.78,311.3 911.13,312.83 C912.47,314.35 913.83,315.87 915.18,317.39 C916.54,318.91 917.9,320.42 919.26,321.94 C920.62,323.45 921.98,324.96 923.34,326.47 C924.71,327.98 926.07,329.49 927.43,331 C928.8,332.51 930.16,334.03 931.52,335.54 C932.88,337.05 934.24,338.56 935.61,340.07 C936.97,341.59 938.33,343.1 939.7,344.6 C941.07,346.11 942.44,347.62 943.82,349.11 C945.2,350.61 946.58,352.1 947.97,353.58 C949.37,355.07 950.77,356.54 952.18,358 C953.6,359.47 955.02,360.92 956.46,362.36 C957.9,363.8 959.35,365.23 960.82,366.64 C962.28,368.05 963.76,369.45 965.26,370.83 C966.75,372.21 968.27,373.57 969.79,374.91 C971.32,376.26 972.86,377.58 974.42,378.89 C975.98,380.21 977.55,381.5 979.13,382.77 C980.72,384.05 982.32,385.31 983.93,386.56 C985.54,387.8 987.16,389.03 988.79,390.24 C990.43,391.46 992.07,392.65 993.73,393.84 C995.38,395.02 997.05,396.19 998.72,397.35 C1000.4,398.5 1002.08,399.65 1003.77,400.78 C1005.47,401.9 1007.17,403.02 1008.88,404.12 C1010.59,405.23 1012.3,406.32 1014.03,407.4 C1015.75,408.48 1017.49,409.55 1019.22,410.61 C1020.96,411.67 1022.7,412.72 1024.45,413.76 C1026.2,414.8 1027.96,415.83 1029.71,416.86 C1031.47,417.89 1033.23,418.9 1034.99,419.92 C1036.76,420.93 1038.52,421.94 1040.29,422.95 C1042.06,423.96 1043.83,424.96 1045.6,425.96 C1047.38,426.96 1049.15,427.96 1050.92,428.96 C1052.69,429.96 1054.47,430.96 1056.24,431.96 C1058.01,432.97 1059.78,433.97 1061.55,434.97 C1063.32,435.98 1065.08,436.99 1066.85,438 C1068.62,439.01 1070.38,440.03 1072.15,441.03 C1073.92,442.04 1075.69,443.04 1077.47,444.03 C1079.25,445.02 1081.03,446 1082.83,446.96 C1084.62,447.91 1086.42,448.86 1088.24,449.78 C1090.06,450.69 1091.88,451.59 1093.72,452.46 C1095.57,453.32 1097.42,454.15 1099.3,454.95 C1101.17,455.74 1103.06,456.5 1104.97,457.21 C1106.87,457.92 1108.8,458.6 1110.73,459.21 C1112.67,459.83 1115.62,460.62 1116.6,460.9" fill="none" stroke="#279dd2" stroke-width="3.25" stroke-linecap="butt"/>
<path d="M823.1,94.4 C823.06,95.42 822.9,98.49 822.83,100.53 C822.77,102.57 822.72,104.62 822.69,106.66 C822.66,108.71 822.65,110.75 822.66,112.8 C822.68,114.84 822.71,116.89 822.76,118.93 C822.81,120.98 822.88,123.02 822.97,125.06 C823.06,127.11 823.17,129.15 823.3,131.19 C823.43,133.23 823.58,135.27 823.75,137.31 C823.92,139.35 824.11,141.38 824.32,143.42 C824.53,145.45 824.75,147.48 825,149.51 C825.24,151.54 825.51,153.57 825.79,155.6 C826.07,157.62 826.38,159.65 826.7,161.67 C827.02,163.69 827.36,165.7 827.71,167.72 C828.07,169.73 828.45,171.74 828.84,173.75 C829.23,175.75 829.65,177.76 830.07,179.76 C830.5,181.76 830.95,183.75 831.42,185.74 C831.88,187.73 832.36,189.72 832.86,191.71 C833.36,193.69 833.88,195.67 834.41,197.64 C834.95,199.62 835.5,201.58 836.07,203.55 C836.63,205.51 837.22,207.47 837.82,209.43 C838.42,211.38 839.04,213.33 839.67,215.28 C840.31,217.22 840.96,219.16 841.63,221.09 C842.29,223.03 842.98,224.95 843.67,226.88 C844.37,228.8 845.09,230.71 845.82,232.62 C846.55,234.53 847.29,236.44 848.05,238.34 C848.82,240.24 849.59,242.13 850.39,244.01 C851.18,245.9 851.98,247.78 852.81,249.65 C853.63,251.52 854.47,253.39 855.32,255.25 C856.17,257.1 857.04,258.96 857.93,260.8 C858.81,262.64 859.71,264.48 860.62,266.31 C861.54,268.14 862.47,269.96 863.41,271.78 C864.36,273.59 865.32,275.4 866.29,277.19 C867.26,278.99 868.25,280.78 869.26,282.56 C870.26,284.34 871.28,286.12 872.32,287.88 C873.35,289.64 874.4,291.4 875.47,293.15 C876.53,294.89 877.61,296.63 878.7,298.36 C879.8,300.08 880.91,301.8 882.03,303.51 C883.16,305.22 884.3,306.92 885.45,308.61 C886.6,310.3 887.77,311.97 888.95,313.64 C890.14,315.31 891.34,316.97 892.55,318.61 C893.76,320.26 894.99,321.9 896.23,323.52 C897.47,325.15 898.73,326.76 900,328.36 C901.27,329.96 902.56,331.55 903.86,333.13 C905.16,334.71 906.47,336.28 907.8,337.83 C909.13,339.38 910.48,340.93 911.84,342.45 C913.19,343.98 914.57,345.5 915.95,347 C917.34,348.51 918.74,350 920.15,351.48 C921.56,352.96 922.99,354.42 924.43,355.88 C925.87,357.33 927.32,358.77 928.78,360.2 C930.24,361.63 931.72,363.04 933.21,364.45 C934.7,365.85 936.2,367.24 937.71,368.62 C939.22,370 940.74,371.36 942.27,372.72 C943.8,374.07 945.35,375.41 946.9,376.74 C948.45,378.07 950.02,379.39 951.59,380.7 C953.17,382 954.75,383.29 956.35,384.57 C957.94,385.86 959.54,387.13 961.16,388.38 C962.77,389.64 964.39,390.89 966.02,392.12 C967.65,393.36 969.29,394.58 970.94,395.79 C972.59,397 974.24,398.2 975.91,399.39 C977.57,400.57 979.25,401.75 980.93,402.92 C982.61,404.08 984.29,405.24 985.99,406.38 C987.69,407.52 989.39,408.66 991.1,409.78 C992.81,410.9 994.53,412.01 996.25,413.11 C997.97,414.21 999.7,415.3 1001.44,416.38 C1003.18,417.46 1004.92,418.53 1006.67,419.59 C1008.41,420.66 1010.17,421.71 1011.93,422.75 C1013.69,423.8 1015.45,424.83 1017.22,425.86 C1018.99,426.89 1020.76,427.91 1022.54,428.92 C1024.31,429.93 1026.09,430.94 1027.88,431.93 C1029.66,432.93 1031.45,433.92 1033.24,434.91 C1035.03,435.9 1036.83,436.88 1038.63,437.85 C1040.43,438.83 1042.23,439.79 1044.03,440.76 C1045.83,441.72 1047.64,442.68 1049.45,443.64 C1051.25,444.6 1053.06,445.55 1054.88,446.5 C1056.69,447.45 1058.5,448.39 1060.32,449.33 C1062.13,450.28 1063.95,451.22 1065.76,452.15 C1067.58,453.09 1069.4,454.03 1071.22,454.95 C1073.05,455.88 1074.87,456.8 1076.71,457.7 C1078.54,458.61 1080.38,459.51 1082.23,460.38 C1084.08,461.26 1085.93,462.12 1087.79,462.96 C1089.66,463.8 1091.53,464.62 1093.42,465.41 C1095.3,466.2 1097.2,466.97 1099.11,467.71 C1101.01,468.45 1102.93,469.15 1104.87,469.82 C1106.8,470.49 1108.74,471.13 1110.7,471.73 C1112.65,472.33 1115.62,473.12 1116.6,473.4" fill="none" stroke="#c6effd" stroke-width="5.6" stroke-linecap="butt"/>
<path d="M823.1,94.4 C823.06,95.42 822.9,98.49 822.83,100.53 C822.77,102.57 822.72,104.62 822.69,106.66 C822.66,108.71 822.65,110.75 822.66,112.8 C822.68,114.84 822.71,116.89 822.76,118.93 C822.81,120.98 822.88,123.02 822.97,125.06 C823.06,127.11 823.17,129.15 823.3,131.19 C823.43,133.23 823.58,135.27 823.75,137.31 C823.92,139.35 824.11,141.38 824.32,143.42 C824.53,145.45 824.75,147.48 825,149.51 C825.24,151.54 825.51,153.57 825.79,155.6 C826.07,157.62 826.38,159.65 826.7,161.67 C827.02,163.69 827.36,165.7 827.71,167.72 C828.07,169.73 828.45,171.74 828.84,173.75 C829.23,175.75 829.65,177.76 830.07,179.76 C830.5,181.76 830.95,183.75 831.42,185.74 C831.88,187.73 832.36,189.72 832.86,191.71 C833.36,193.69 833.88,195.67 834.41,197.64 C834.95,199.62 835.5,201.58 836.07,203.55 C836.63,205.51 837.22,207.47 837.82,209.43 C838.42,211.38 839.04,213.33 839.67,215.28 C840.31,217.22 840.96,219.16 841.63,221.09 C842.29,223.03 842.98,224.95 843.67,226.88 C844.37,228.8 845.09,230.71 845.82,232.62 C846.55,234.53 847.29,236.44 848.05,238.34 C848.82,240.24 849.59,242.13 850.39,244.01 C851.18,245.9 851.98,247.78 852.81,249.65 C853.63,251.52 854.47,253.39 855.32,255.25 C856.17,257.1 857.04,258.96 857.93,260.8 C858.81,262.64 859.71,264.48 860.62,266.31 C861.54,268.14 862.47,269.96 863.41,271.78 C864.36,273.59 865.32,275.4 866.29,277.19 C867.26,278.99 868.25,280.78 869.26,282.56 C870.26,284.34 871.28,286.12 872.32,287.88 C873.35,289.64 874.4,291.4 875.47,293.15 C876.53,294.89 877.61,296.63 878.7,298.36 C879.8,300.08 880.91,301.8 882.03,303.51 C883.16,305.22 884.3,306.92 885.45,308.61 C886.6,310.3 887.77,311.97 888.95,313.64 C890.14,315.31 891.34,316.97 892.55,318.61 C893.76,320.26 894.99,321.9 896.23,323.52 C897.47,325.15 898.73,326.76 900,328.36 C901.27,329.96 902.56,331.55 903.86,333.13 C905.16,334.71 906.47,336.28 907.8,337.83 C909.13,339.38 910.48,340.93 911.84,342.45 C913.19,343.98 914.57,345.5 915.95,347 C917.34,348.51 918.74,350 920.15,351.48 C921.56,352.96 922.99,354.42 924.43,355.88 C925.87,357.33 927.32,358.77 928.78,360.2 C930.24,361.63 931.72,363.04 933.21,364.45 C934.7,365.85 936.2,367.24 937.71,368.62 C939.22,370 940.74,371.36 942.27,372.72 C943.8,374.07 945.35,375.41 946.9,376.74 C948.45,378.07 950.02,379.39 951.59,380.7 C953.17,382 954.75,383.29 956.35,384.57 C957.94,385.86 959.54,387.13 961.16,388.38 C962.77,389.64 964.39,390.89 966.02,392.12 C967.65,393.36 969.29,394.58 970.94,395.79 C972.59,397 974.24,398.2 975.91,399.39 C977.57,400.57 979.25,401.75 980.93,402.92 C982.61,404.08 984.29,405.24 985.99,406.38 C987.69,407.52 989.39,408.66 991.1,409.78 C992.81,410.9 994.53,412.01 996.25,413.11 C997.97,414.21 999.7,415.3 1001.44,416.38 C1003.18,417.46 1004.92,418.53 1006.67,419.59 C1008.41,420.66 1010.17,421.71 1011.93,422.75 C1013.69,423.8 1015.45,424.83 1017.22,425.86 C1018.99,426.89 1020.76,427.91 1022.54,428.92 C1024.31,429.93 1026.09,430.94 1027.88,431.93 C1029.66,432.93 1031.45,433.92 1033.24,434.91 C1035.03,435.9 1036.83,436.88 1038.63,437.85 C1040.43,438.83 1042.23,439.79 1044.03,440.76 C1045.83,441.72 1047.64,442.68 1049.45,443.64 C1051.25,444.6 1053.06,445.55 1054.88,446.5 C1056.69,447.45 1058.5,448.39 1060.32,449.33 C1062.13,450.28 1063.95,451.22 1065.76,452.15 C1067.58,453.09 1069.4,454.03 1071.22,454.95 C1073.05,455.88 1074.87,456.8 1076.71,457.7 C1078.54,458.61 1080.38,459.51 1082.23,460.38 C1084.08,461.26 1085.93,462.12 1087.79,462.96 C1089.66,463.8 1091.53,464.62 1093.42,465.41 C1095.3,466.2 1097.2,466.97 1099.11,467.71 C1101.01,468.45 1102.93,469.15 1104.87,469.82 C1106.8,470.49 1108.74,471.13 1110.7,471.73 C1112.65,472.33 1115.62,473.12 1116.6,473.4" fill="none" stroke="#279dd2" stroke-width="3.25" stroke-linecap="butt"/>
<path d="M830.25,94.4 C830.21,95.42 830.09,98.46 830.02,100.49 C829.94,102.53 829.87,104.56 829.8,106.59 C829.73,108.62 829.67,110.65 829.62,112.68 C829.56,114.71 829.51,116.75 829.46,118.78 C829.42,120.81 829.38,122.84 829.35,124.87 C829.31,126.91 829.29,128.94 829.27,130.97 C829.25,133 829.23,135.04 829.23,137.07 C829.22,139.1 829.22,141.13 829.23,143.16 C829.24,145.2 829.25,147.23 829.28,149.26 C829.3,151.29 829.34,153.33 829.38,155.36 C829.42,157.39 829.47,159.42 829.53,161.45 C829.59,163.49 829.66,165.52 829.74,167.55 C829.82,169.58 829.91,171.61 830.01,173.64 C830.11,175.67 830.21,177.7 830.34,179.73 C830.46,181.76 830.59,183.78 830.73,185.81 C830.87,187.84 831.02,189.87 831.19,191.89 C831.36,193.92 831.53,195.94 831.72,197.97 C831.91,199.99 832.11,202.01 832.33,204.03 C832.55,206.05 832.77,208.07 833.01,210.09 C833.26,212.11 833.51,214.13 833.78,216.14 C834.05,218.15 834.33,220.17 834.63,222.18 C834.93,224.19 835.24,226.2 835.57,228.2 C835.9,230.21 836.24,232.21 836.6,234.21 C836.96,236.21 837.34,238.21 837.73,240.2 C838.12,242.2 838.53,244.19 838.95,246.18 C839.38,248.16 839.82,250.15 840.28,252.13 C840.74,254.11 841.22,256.08 841.71,258.05 C842.21,260.03 842.72,261.99 843.25,263.95 C843.78,265.91 844.34,267.87 844.91,269.82 C845.48,271.77 846.06,273.72 846.67,275.66 C847.28,277.6 847.91,279.53 848.56,281.46 C849.21,283.38 849.88,285.3 850.56,287.21 C851.25,289.13 851.96,291.03 852.69,292.93 C853.42,294.82 854.17,296.71 854.94,298.6 C855.71,300.48 856.5,302.35 857.31,304.21 C858.12,306.08 858.94,307.93 859.79,309.78 C860.64,311.63 861.51,313.47 862.39,315.3 C863.28,317.12 864.19,318.94 865.11,320.75 C866.04,322.56 866.98,324.36 867.95,326.15 C868.91,327.94 869.89,329.72 870.89,331.49 C871.89,333.26 872.92,335.02 873.95,336.76 C874.99,338.51 876.05,340.25 877.13,341.97 C878.2,343.69 879.3,345.41 880.41,347.11 C881.53,348.81 882.66,350.49 883.81,352.17 C884.96,353.85 886.13,355.51 887.31,357.16 C888.5,358.81 889.7,360.45 890.93,362.07 C892.15,363.69 893.39,365.3 894.65,366.9 C895.91,368.5 897.18,370.08 898.48,371.64 C899.77,373.21 901.08,374.76 902.41,376.3 C903.74,377.84 905.09,379.36 906.45,380.87 C907.81,382.38 909.19,383.87 910.59,385.35 C911.98,386.83 913.39,388.29 914.82,389.74 C916.25,391.18 917.69,392.62 919.15,394.03 C920.6,395.45 922.07,396.85 923.56,398.24 C925.04,399.63 926.54,401 928.06,402.36 C929.57,403.72 931.1,405.06 932.63,406.39 C934.17,407.71 935.72,409.03 937.29,410.32 C938.85,411.62 940.43,412.91 942.02,414.17 C943.6,415.44 945.2,416.7 946.81,417.94 C948.42,419.18 950.05,420.4 951.68,421.61 C953.31,422.83 954.95,424.02 956.6,425.21 C958.26,426.39 959.92,427.56 961.59,428.71 C963.26,429.87 964.95,431.01 966.64,432.14 C968.33,433.27 970.03,434.38 971.73,435.48 C973.44,436.58 975.16,437.67 976.89,438.75 C978.61,439.82 980.34,440.88 982.08,441.93 C983.82,442.98 985.57,444.01 987.33,445.04 C989.09,446.06 990.85,447.07 992.62,448.07 C994.39,449.07 996.17,450.06 997.95,451.03 C999.73,452 1001.53,452.96 1003.32,453.91 C1005.12,454.86 1006.92,455.8 1008.73,456.73 C1010.54,457.65 1012.36,458.57 1014.18,459.47 C1016,460.38 1017.82,461.27 1019.65,462.15 C1021.49,463.03 1023.32,463.9 1025.17,464.76 C1027.01,465.62 1028.85,466.46 1030.71,467.3 C1032.56,468.14 1034.42,468.96 1036.28,469.78 C1038.14,470.6 1040,471.4 1041.87,472.2 C1043.75,472.99 1045.62,473.78 1047.5,474.55 C1049.38,475.33 1051.26,476.09 1053.15,476.85 C1055.03,477.6 1056.92,478.35 1058.82,479.09 C1060.71,479.82 1062.61,480.55 1064.51,481.27 C1066.42,481.98 1068.32,482.69 1070.23,483.39 C1072.14,484.09 1074.05,484.78 1075.96,485.46 C1077.88,486.14 1079.8,486.81 1081.72,487.47 C1083.64,488.14 1085.57,488.79 1087.49,489.43 C1089.42,490.08 1091.35,490.72 1093.28,491.35 C1095.22,491.97 1097.15,492.59 1099.09,493.21 C1101.03,493.82 1102.97,494.42 1104.91,495.02 C1106.85,495.61 1108.8,496.2 1110.75,496.78 C1112.7,497.36 1115.62,498.21 1116.6,498.5" fill="none" stroke="#1d6888" stroke-width="3.0" stroke-linecap="butt" stroke-dasharray="9.5 3.5"/>
<text x="170.61" y="101.4" font-size="15.6" font-weight="normal" fill="#2a2a2a" stroke="#2a2a2a" stroke-width="0.12">2</text>
<text x="170.44" y="137.5" font-size="15.6" font-weight="normal" fill="#2a2a2a" stroke="#2a2a2a" stroke-width="0.12">1</text>
<text x="161.6" y="158.9" font-size="15.6" font-weight="normal" fill="#2a2a2a" stroke="#2a2a2a" stroke-width="0.12">40</text>
<text x="161.35" y="195.75" font-size="15.6" font-weight="normal" fill="#2a2a2a" stroke="#2a2a2a" stroke-width="0.12">20</text>
<text x="161.78" y="230.3" font-size="15.6" font-weight="normal" fill="#2a2a2a" stroke="#2a2a2a" stroke-width="0.12">10</text>
<text x="170.48" y="276.7" font-size="15.6" font-weight="normal" fill="#2a2a2a" stroke="#2a2a2a" stroke-width="0.12">4</text>
<text x="170.91" y="312.6" font-size="15.6" font-weight="normal" fill="#2a2a2a" stroke="#2a2a2a" stroke-width="0.12">2</text>
<text x="170.44" y="347" font-size="15.6" font-weight="normal" fill="#2a2a2a" stroke="#2a2a2a" stroke-width="0.12">1</text>
<text x="161.6" y="370.5" font-size="15.6" font-weight="normal" fill="#2a2a2a" stroke="#2a2a2a" stroke-width="0.12">40</text>
<text x="161.35" y="407" font-size="15.6" font-weight="normal" fill="#2a2a2a" stroke="#2a2a2a" stroke-width="0.12">20</text>
<text x="161.88" y="442.5" font-size="15.6" font-weight="normal" fill="#2a2a2a" stroke="#2a2a2a" stroke-width="0.12">10</text>
<text x="170.68" y="488.9" font-size="15.6" font-weight="normal" fill="#2a2a2a" stroke="#2a2a2a" stroke-width="0.12">4</text>
<text x="170.61" y="526.4" font-size="15.6" font-weight="normal" fill="#2a2a2a" stroke="#2a2a2a" stroke-width="0.12">2</text>
<text x="170.44" y="560.9" font-size="15.6" font-weight="normal" fill="#2a2a2a" stroke="#2a2a2a" stroke-width="0.12">1</text>
<text x="157.38" y="574.5" font-size="15.6" font-weight="normal" fill="#2a2a2a" stroke="#2a2a2a" stroke-width="0.12">0,8</text>
<text x="193.85" y="599.9" font-size="15.6" font-weight="normal" fill="#2a2a2a" stroke="#2a2a2a" stroke-width="0.12">0,8</text>
<text x="225.49" y="599.9" font-size="15.6" font-weight="normal" fill="#2a2a2a" stroke="#2a2a2a" stroke-width="0.12">1</text>
<text x="296.49" y="599.9" font-size="15.6" font-weight="normal" fill="#2a2a2a" stroke="#2a2a2a" stroke-width="0.12">2</text>
<text x="369.11" y="599.9" font-size="15.6" font-weight="normal" fill="#2a2a2a" stroke="#2a2a2a" stroke-width="0.12">4</text>
<text x="412.74" y="599.9" font-size="15.6" font-weight="normal" fill="#2a2a2a" stroke="#2a2a2a" stroke-width="0.12">6</text>
<text x="461.78" y="599.9" font-size="15.6" font-weight="normal" fill="#2a2a2a" stroke="#2a2a2a" stroke-width="0.12">10</text>
<text x="512.03" y="599.9" font-size="15.6" font-weight="normal" fill="#2a2a2a" stroke="#2a2a2a" stroke-width="0.12">17</text>
<text x="531.48" y="599.9" font-size="15.6" font-weight="normal" fill="#2a2a2a" stroke="#2a2a2a" stroke-width="0.12">20</text>
<text x="201" y="48.1" font-size="17" font-weight="normal" fill="#2b2b2b" stroke="#2b2b2b" stroke-width="0.1" textLength="126.73" lengthAdjust="spacingAndGlyphs">Время срабатывания</text>
<text x="463.39" y="47.75" font-size="17.5" font-weight="bold" fill="#222" stroke="#222" stroke-width="0" textLength="40.21" lengthAdjust="spacingAndGlyphs">Класс</text>
<text x="507.06" y="47.75" font-size="17.5" font-weight="bold" fill="#222" stroke="#222" stroke-width="0" textLength="16.81" lengthAdjust="spacingAndGlyphs">10</text>
<text x="527.82" y="47.75" font-size="17.5" font-weight="bold" fill="#222" stroke="#222" stroke-width="0" textLength="8.4" lengthAdjust="spacingAndGlyphs">А</text>
<text x="390.1" y="616.25" font-size="16.5" font-weight="normal" fill="#2b2b2b" stroke="#2b2b2b" stroke-width="0.25" textLength="158.82" lengthAdjust="spacingAndGlyphs">Кратность тока уставки (Ir)</text>
<text transform="translate(129.5,117.7) rotate(-90)" x="-0.58" y="0" font-size="16.5" fill="#2b2b2b" stroke="#2b2b2b" stroke-width="0.25" textLength="28.56" lengthAdjust="spacingAndGlyphs">часы</text>
<text transform="translate(129.5,276.9) rotate(-90)" x="-0.81" y="0" font-size="16.5" fill="#2b2b2b" stroke="#2b2b2b" stroke-width="0.25" textLength="44.92" lengthAdjust="spacingAndGlyphs">минуты</text>
<text transform="translate(128.5,496.9) rotate(-90)" x="-0.4" y="0" font-size="16.5" fill="#2b2b2b" stroke="#2b2b2b" stroke-width="0.25" textLength="48.79" lengthAdjust="spacingAndGlyphs">секунды</text>
<rect x="526" y="493.3" width="10.3" height="19.1" fill="#fff"/><polygon points="534.6,496.3 534.6,510.9 531.3,510.9 531.3,500.9 527.8,502.9 527.8,500.2 530,496.5" fill="#2a9fd4"/>
<rect x="526" y="515.2" width="12.3" height="17.7" fill="#fff"/><text x="526.67" y="531.1" font-size="19.5" font-weight="bold" fill="#2a9fd4" stroke="#2a9fd4" stroke-width="0.3">2</text>
<rect x="526" y="534.7" width="12.3" height="18.6" fill="#fff"/><text x="526.82" y="551.5" font-size="19.5" font-weight="bold" fill="#1f6d8e" stroke="#1f6d8e" stroke-width="0.3">3</text>
<text x="298.41" y="652.6" font-size="13.5" font-weight="normal" fill="#676767" stroke="#676767" stroke-width="0" textLength="82.09" lengthAdjust="spacingAndGlyphs">Рисунок 3 —</text>
<text x="199.91" y="673.7" font-size="13.5" font-weight="normal" fill="#676767" stroke="#676767" stroke-width="0" textLength="278.42" lengthAdjust="spacingAndGlyphs">Время-токовая характеристика класса 10А</text>
<text x="765.29" y="99.25" font-size="15.6" font-weight="normal" fill="#2a2a2a" stroke="#2a2a2a" stroke-width="0.12">2</text>
<text x="763.62" y="135" font-size="15.6" font-weight="normal" fill="#2a2a2a" stroke="#2a2a2a" stroke-width="0.12">1</text>
<text x="755.45" y="157" font-size="15.6" font-weight="normal" fill="#2a2a2a" stroke="#2a2a2a" stroke-width="0.12">40</text>
<text x="755.33" y="193.5" font-size="15.6" font-weight="normal" fill="#2a2a2a" stroke="#2a2a2a" stroke-width="0.12">20</text>
<text x="755.86" y="228" font-size="15.6" font-weight="normal" fill="#2a2a2a" stroke="#2a2a2a" stroke-width="0.12">10</text>
<text x="764.36" y="275" font-size="15.6" font-weight="normal" fill="#2a2a2a" stroke="#2a2a2a" stroke-width="0.12">4</text>
<text x="764.31" y="311.9" font-size="15.6" font-weight="normal" fill="#2a2a2a" stroke="#2a2a2a" stroke-width="0.12">2</text>
<text x="763.62" y="344.9" font-size="15.6" font-weight="normal" fill="#2a2a2a" stroke="#2a2a2a" stroke-width="0.12">1</text>
<text x="755.57" y="369.5" font-size="15.6" font-weight="normal" fill="#2a2a2a" stroke="#2a2a2a" stroke-width="0.12">40</text>
<text x="755.33" y="405.5" font-size="15.6" font-weight="normal" fill="#2a2a2a" stroke="#2a2a2a" stroke-width="0.12">20</text>
<text x="755.86" y="441" font-size="15.6" font-weight="normal" fill="#2a2a2a" stroke="#2a2a2a" stroke-width="0.12">10</text>
<text x="764.36" y="488" font-size="15.6" font-weight="normal" fill="#2a2a2a" stroke="#2a2a2a" stroke-width="0.12">4</text>
<text x="764.31" y="524.5" font-size="15.6" font-weight="normal" fill="#2a2a2a" stroke="#2a2a2a" stroke-width="0.12">2</text>
<text x="763.62" y="560" font-size="15.6" font-weight="normal" fill="#2a2a2a" stroke="#2a2a2a" stroke-width="0.12">1</text>
<text x="751.08" y="574" font-size="15.6" font-weight="normal" fill="#2a2a2a" stroke="#2a2a2a" stroke-width="0.12">0,8</text>
<text x="787.38" y="598.9" font-size="15.6" font-weight="normal" fill="#2a2a2a" stroke="#2a2a2a" stroke-width="0.12">0,8</text>
<text x="819.24" y="598.9" font-size="15.6" font-weight="normal" fill="#2a2a2a" stroke="#2a2a2a" stroke-width="0.12">1</text>
<text x="890.74" y="598.9" font-size="15.6" font-weight="normal" fill="#2a2a2a" stroke="#2a2a2a" stroke-width="0.12">2</text>
<text x="963.03" y="598.9" font-size="15.6" font-weight="normal" fill="#2a2a2a" stroke="#2a2a2a" stroke-width="0.12">4</text>
<text x="1007.36" y="598.9" font-size="15.6" font-weight="normal" fill="#2a2a2a" stroke="#2a2a2a" stroke-width="0.12">6</text>
<text x="1056.03" y="598.9" font-size="15.6" font-weight="normal" fill="#2a2a2a" stroke="#2a2a2a" stroke-width="0.12">10</text>
<text x="1105.85" y="598.9" font-size="15.6" font-weight="normal" fill="#2a2a2a" stroke="#2a2a2a" stroke-width="0.12">17</text>
<text x="1125.83" y="598.9" font-size="15.6" font-weight="normal" fill="#2a2a2a" stroke="#2a2a2a" stroke-width="0.12">20</text>
<text x="768.9" y="55.6" font-size="17" font-weight="normal" fill="#2b2b2b" stroke="#2b2b2b" stroke-width="0.1" textLength="126.33" lengthAdjust="spacingAndGlyphs">Время срабатывания</text>
<text x="1031.84" y="54.9" font-size="17.5" font-weight="bold" fill="#222" stroke="#222" stroke-width="0" textLength="40.21" lengthAdjust="spacingAndGlyphs">Класс</text>
<text x="1076.28" y="54.9" font-size="17.5" font-weight="bold" fill="#222" stroke="#222" stroke-width="0" textLength="16.62" lengthAdjust="spacingAndGlyphs">20</text>
<text x="982" y="617.5" font-size="16.5" font-weight="normal" fill="#2b2b2b" stroke="#2b2b2b" stroke-width="0.25" textLength="158.77" lengthAdjust="spacingAndGlyphs">Кратность тока уставки (Ir)</text>
<text transform="translate(719.25,125.1) rotate(-90)" x="-0.59" y="0" font-size="16.5" fill="#2b2b2b" stroke="#2b2b2b" stroke-width="0.25" textLength="29.09" lengthAdjust="spacingAndGlyphs">часы</text>
<text transform="translate(718.9,285.1) rotate(-90)" x="-0.81" y="0" font-size="16.5" fill="#2b2b2b" stroke="#2b2b2b" stroke-width="0.25" textLength="45.12" lengthAdjust="spacingAndGlyphs">минуты</text>
<text transform="translate(719.5,505.1) rotate(-90)" x="-0.4" y="0" font-size="16.5" fill="#2b2b2b" stroke="#2b2b2b" stroke-width="0.25" textLength="48.89" lengthAdjust="spacingAndGlyphs">секунды</text>
<rect x="1120.4" y="445.9" width="10.9" height="19" fill="#fff"/><polygon points="1129.6,448.9 1129.6,463.4 1126.3,463.4 1126.3,453.5 1122.2,455.5 1122.2,452.8 1125,449.1" fill="#2a9fd4"/>
<rect x="1120.4" y="467.6" width="12.35" height="18.4" fill="#fff"/><text x="1121.09" y="484.2" font-size="19.5" font-weight="bold" fill="#2a9fd4" stroke="#2a9fd4" stroke-width="0.3">2</text>
<rect x="1120.4" y="492" width="12.35" height="17.6" fill="#fff"/><text x="1121.24" y="507.8" font-size="19.5" font-weight="bold" fill="#1f6d8e" stroke="#1f6d8e" stroke-width="0.3">3</text>
<text x="887.7" y="655" font-size="13.5" font-weight="normal" fill="#676767" stroke="#676767" stroke-width="0" textLength="82.8" lengthAdjust="spacingAndGlyphs">Рисунок 4 —</text>
<text x="793.91" y="676" font-size="13.5" font-weight="normal" fill="#676767" stroke="#676767" stroke-width="0" textLength="269.94" lengthAdjust="spacingAndGlyphs">Время-токовая характеристика класса 20</text>
</svg>
</body></html>
